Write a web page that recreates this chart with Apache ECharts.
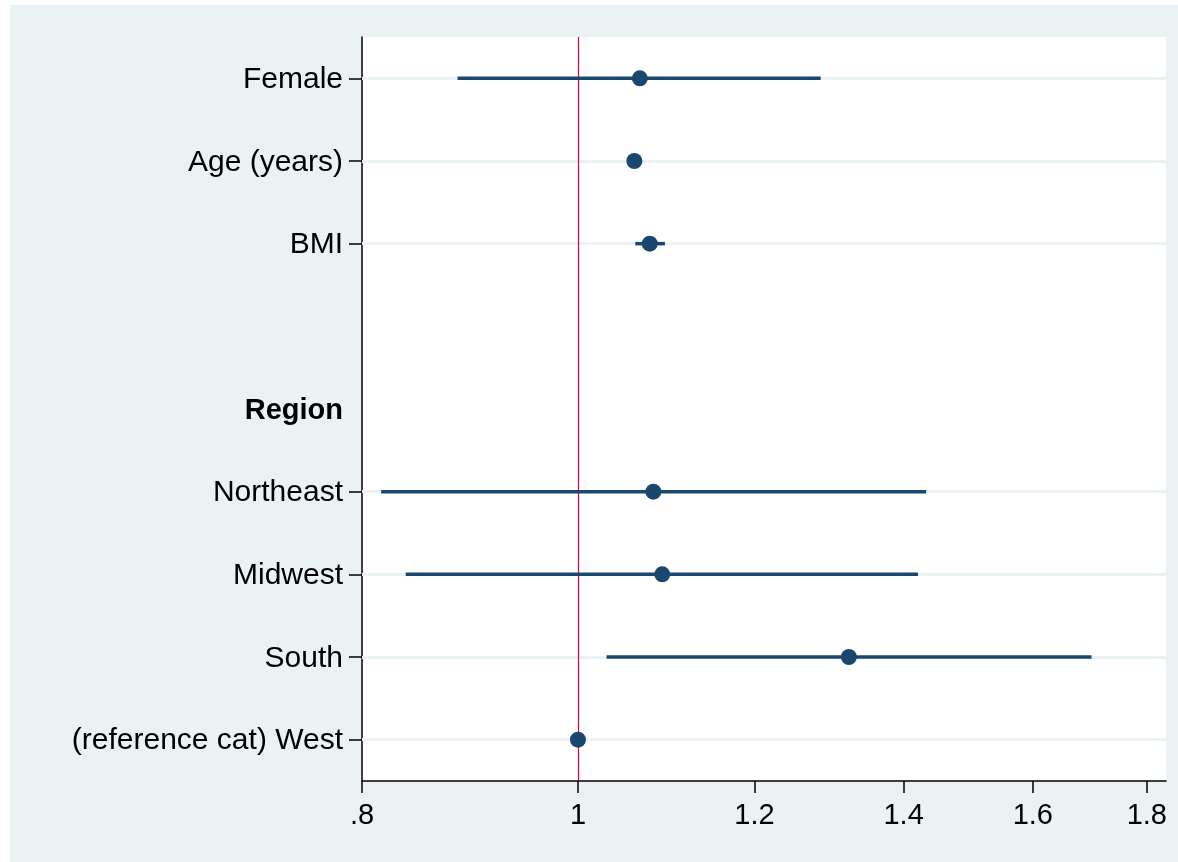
<!DOCTYPE html>
<html>
<head>
<meta charset="utf-8">
<script src="https://cdn.jsdelivr.net/npm/echarts@6/dist/echarts.min.js"></script>
<style>
  html, body { margin: 0; padding: 0; background: #fff; }
  #main { width: 1178px; height: 862px; }
</style>
</head>
<body>
<div id="main"></div>
<script>
// rows top to bottom, ' ' is the blank spacer row
var rows = ['Female', 'Age (years)', 'BMI', ' ', 'Region', 'Northeast', 'Midwest', 'South', '(reference cat) West'];
// odds ratios and 95% CI, null where a row has no estimate
var est   = [1.066, 1.060, 1.077, null, null, 1.081, 1.091, 1.323, 1.000];
var ciLow = [0.883, 1.057, 1.061, null, null, 0.816, 0.837, 1.030, 1.000];
var ciHigh= [1.285, 1.063, 1.094, null, null, 1.433, 1.421, 1.700, 1.000];
var xTicks = [0.8, 1, 1.2, 1.4, 1.6, 1.8];

var navy = '#1a476f';
var bg = '#eaf2f3';
var font = 'Liberation Sans, Arial';

var myChart = echarts.init(document.getElementById('main'));

var pts = [], bars = [], gridLines = [];
for (var i = 0; i < rows.length; i++) {
	if (est[i] !== null) {
		pts.push([Math.log(est[i]), rows[i]]);
		bars.push([Math.log(ciLow[i]), Math.log(ciHigh[i]), rows[i]]);
		gridLines.push({ yAxis: rows[i] });
	}
}
// x axis is drawn on the log scale, labels show the odds ratio
var logTicks = xTicks.map(function (v) { return Math.log(v); });

var option = {
	animation: false,
	graphic: [{
		type: 'rect', left: 10, top: 5, z: -10,
		shape: { width: 1168, height: 857 },
		style: { fill: bg }
	}],
	grid: {
		left: 362, top: 37, right: 12, bottom: 81,
		show: true, backgroundColor: '#fff', borderWidth: 0
	},
	xAxis: {
		type: 'value',
		min: Math.log(0.8),
		max: Math.log(1.836),
		axisLine: { show: true, onZero: false, lineStyle: { color: '#000', width: 1.5 } },
		axisTick: { show: true, length: 12, lineStyle: { color: '#000', width: 1.5 }, customValues: logTicks },
		axisLabel: {
			customValues: logTicks,
			color: '#000', fontSize: 29, fontFamily: font, margin: 20,
			formatter: function (v) {
				var s = (Math.round(Math.exp(v) * 10) / 10).toString();
				return s.replace(/^0\./, '.');
			}
		},
		splitLine: { show: false }
	},
	yAxis: {
		type: 'category',
		data: rows,
		inverse: true,
		axisLine: { show: true, onZero: false, lineStyle: { color: '#000', width: 1.5 } },
		axisTick: {
			show: true, alignWithLabel: true, length: 13, lineStyle: { color: '#000', width: 1.5 },
			interval: function (idx) { return est[idx] !== null; }
		},
		axisLabel: {
			color: '#000', fontSize: 30, fontFamily: font, margin: 19,
			interval: 0,
			padding: [3, 0, 0, 0],
			formatter: function (v) { return v === 'Region' ? '{b|Region}' : v; },
			rich: { b: { fontWeight: 'bold', fontSize: 29, fontFamily: font, color: '#000' } }
		},
		splitLine: { show: false }
	},
	series: [
		{
			// light horizontal guide lines
			type: 'scatter',
			data: [],
			z: 1,
			markLine: {
				silent: true, symbol: 'none', label: { show: false }, z: 1,
				data: gridLines,
				lineStyle: { color: bg, width: 3, type: 'solid' }
			}
		},
		{
			// reference line at OR = 1
			type: 'scatter',
			data: [],
			z: 2,
			markLine: {
				silent: true, symbol: 'none', label: { show: false }, z: 3,
				data: [{ xAxis: Math.log(1) }],
				lineStyle: { color: '#d7063c', width: 1.2, type: 'solid' }
			}
		},
		{
			type: 'custom',
			z: 4,
			silent: true,
			data: bars,
			encode: { x: [0, 1], y: 2 },
			renderItem: function (params, api) {
				var a = api.coord([api.value(0), api.value(2)]);
				var b = api.coord([api.value(1), api.value(2)]);
				return {
					type: 'line',
					shape: { x1: a[0], y1: a[1], x2: b[0], y2: b[1] },
					style: { stroke: navy, lineWidth: 3.5 }
				};
			}
		},
		{
			type: 'scatter',
			z: 5,
			symbolSize: 16,
			itemStyle: { color: navy, opacity: 1 },
			data: pts
		}
	]
};
myChart.setOption(option);
</script>
</body>
</html>
